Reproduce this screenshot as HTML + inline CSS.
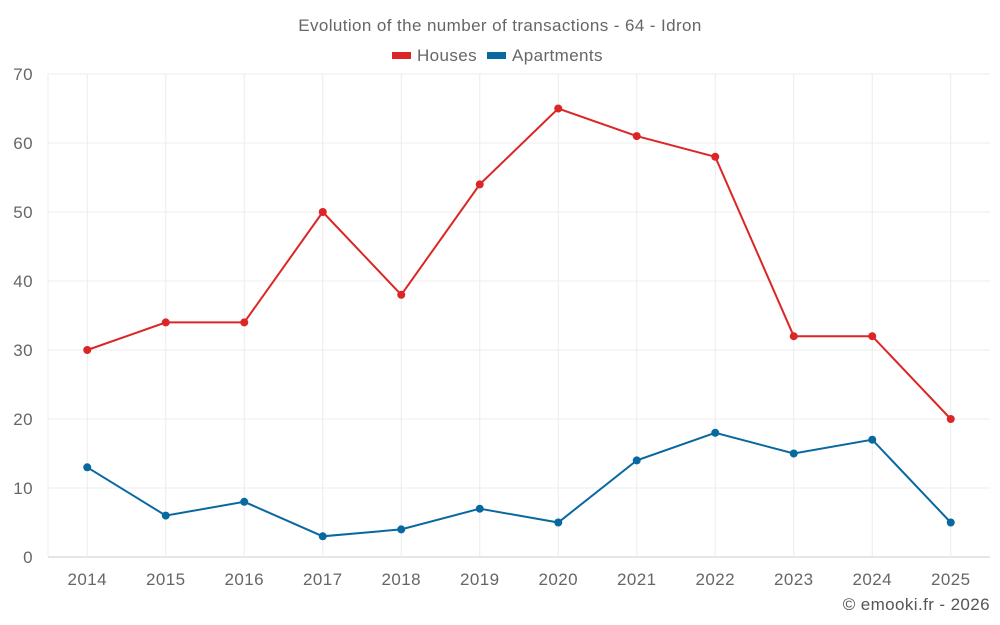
<!DOCTYPE html>
<html><head><meta charset="utf-8">
<style>
html,body{margin:0;padding:0;background:#fff;}
svg{display:block;font-family:"Liberation Sans",Arial,sans-serif;}
svg text{letter-spacing:0.4px;}
</style></head>
<body>
<svg id="chart" width="1000" height="625" xmlns="http://www.w3.org/2000/svg">
<text x="500" y="31" text-anchor="middle" font-size="17" fill="#666">Evolution of the number of transactions - 64 - Idron</text>
<g>
 <g><rect x="392" y="52" width="19" height="7" fill="#dc2626"/><text x="417" y="61" font-size="17" fill="#666">Houses</text></g>
 <g><rect x="487" y="52" width="19" height="7" fill="#0868a0"/><text x="512" y="61" font-size="17" fill="#666">Apartments</text></g>
</g>
<g id="grid"></g>
<g id="axes"></g>
<g id="series"></g>
<text x="990" y="610" text-anchor="end" font-size="17" fill="#555">© emooki.fr - 2026</text>
</svg>
<script>
const years = ["2014","2015","2016","2017","2018","2019","2020","2021","2022","2023","2024","2025"];
const houses = [30,34,34,50,38,54,65,61,58,32,32,20];
const apartments = [13,6,8,3,4,7,5,14,18,15,17,5];
const yTicks = [0,10,20,30,40,50,60,70];

const NS="http://www.w3.org/2000/svg";
const L=48,R=990,T=74,B=557,YMAX=70;
const band=(R-L)/years.length;
function xs(i){return L+band*(i+0.5);}
function ys(v){return B-(v/YMAX)*(B-T);}
function mk(tag,attrs,parent){const e=document.createElementNS(NS,tag);for(const k in attrs)e.setAttribute(k,attrs[k]);parent.appendChild(e);return e;}
const grid=document.getElementById('grid'),axes=document.getElementById('axes'),series=document.getElementById('series');
yTicks.forEach(t=>{
 const y=ys(t);
 const g=mk('line',{x1:L,x2:R,y1:y,y2:y,stroke:t===0?'#ccc':'#ececec','stroke-width':1},grid);
 
 
 const tx=mk('text',{x:33,y:y+6,'text-anchor':'end','font-size':17,fill:'#666'},axes);
 tx.textContent=t;
 
 
});
mk('line',{x1:L,x2:L,y1:T,y2:B,stroke:'#ececec'},grid);
years.forEach((yr,i)=>{
 const x=xs(i);
 const g=mk('line',{x1:x,x2:x,y1:T,y2:B,stroke:'#ececec'},grid);
 
 
 const tx=mk('text',{x:x,y:585,'text-anchor':'middle','font-size':17,fill:'#666'},axes);
 tx.textContent=yr;
 
 
});
function drawSeries(vals,color,name){
 const pts=vals.map((v,i)=>xs(i)+','+ys(v)).join(' ');
 const pl=mk('polyline',{points:pts,fill:'none',stroke:color,'stroke-width':2},series);
 
 
 vals.forEach((v,i)=>{
  const c=mk('circle',{cx:xs(i),cy:ys(v),r:4,fill:color},series);
  
  
 });
}
drawSeries(houses,'#dc2626','houses');
drawSeries(apartments,'#0868a0','apartments');
</script>
</body></html>
